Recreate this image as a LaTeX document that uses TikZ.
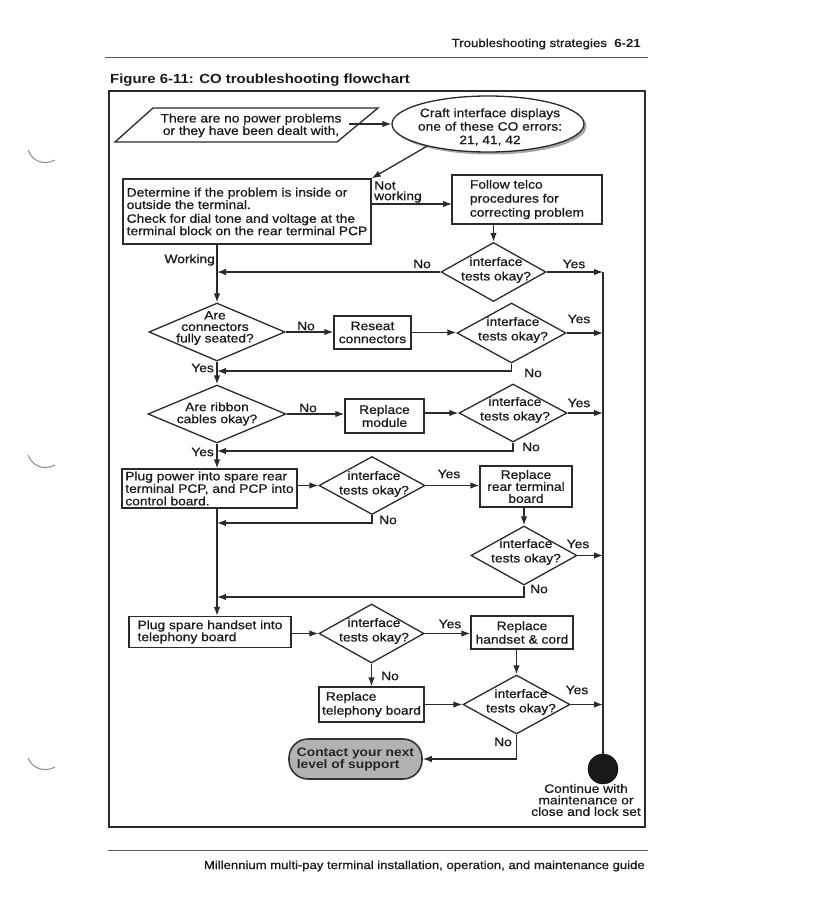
\documentclass[tikz,border=0pt]{standalone}
\usepackage{fontspec}
\setmainfont{Liberation Sans}[FakeStretch=1.13, UprightFeatures={FakeBold=0.7}]
\usetikzlibrary{shapes.geometric,arrows.meta,shadows}
\definecolor{linec}{HTML}{2A2A2A}
\definecolor{textc}{HTML}{1A1A1A}
\newcommand\fsz[1]{\fontsize{12.2}{#1}\selectfont}
\tikzset{
  ln/.style={draw=linec, line width=1.3pt},
  arr/.style={ln, -{Latex[length=9pt,width=6.5pt]}},
  box/.style={ln, rectangle, inner sep=0pt, text=textc},
  dia/.style={ln, diamond, inner sep=0pt},
  txt/.style={inner sep=0pt, text=textc, font=\fsz{12}},
  dtxt/.style={txt, align=center, font=\fsz{14.5}},
  rulestyle/.style={draw=black!65, line width=1pt},
  holemark/.style={draw=black!45, line width=1pt},
}
\begin{document}
\begin{tikzpicture}[x=1pt,y=-1pt]
\useasboundingbox (0,0) rectangle (840,916);
\fill[white] (0,0) rectangle (840,916);

% binding marks
\draw[holemark] (28,150) .. controls (32,161) and (44,166) .. (55,160);
\draw[holemark] (28,455) .. controls (32,466) and (44,471) .. (55,465);
\draw[holemark] (28,758) .. controls (32,768) and (44,773) .. (55,767);

% header / footer
\node[txt, anchor=east, font=\fontsize{11.7}{13}\selectfont] (hdr) at (641,44) {Troubleshooting strategies\ \ \textbf{6-21}};
\draw[rulestyle] (105,57) -- (648,57);
\node[txt, anchor=west, font=\fontsize{13.2}{15}\selectfont\bfseries] (ttl) at (110,80) {Figure 6-11: CO troubleshooting flowchart};
\draw[rulestyle] (108,850) -- (648,850);
\node[txt, anchor=east, font=\fontsize{11.6}{13}\selectfont] (ftr) at (645,866) {Millennium multi-pay terminal installation, operation, and maintenance guide};

% frame
\draw[ln, line width=1.2pt] (109,91) rectangle (645,827);

% start parallelogram and ellipse
\draw[ln] (153,108) -- (378,108) -- (337,142) -- (115,142) -- cycle;
\node[txt, align=center, font=\fsz{11}] (par) at (251,125.5) {There are no power problems\\or they have been dealt with,};
\coordinate (parR) at (349,124);
\node[ln, ellipse, fill=white, minimum width=192pt, minimum height=56pt, inner sep=0pt,
      drop shadow={shadow xshift=2.5pt,shadow yshift=-2.5pt,fill=black!35,opacity=1}] (ell) at (488,124) {};
\node[txt, align=center, font=\fsz{13.5}] (ellt) at (490,127) {Craft interface displays\\one of these CO errors:\\21, 41, 42};

% boxes
\node[box, minimum width=248pt, minimum height=65pt, align=left, font=\fsz{10.8}] (det) at (247,211.5)
  {Determine if the problem is inside or\\outside the terminal.\\[3pt]Check for dial tone and voltage at the\\terminal block on the rear terminal PCP};
\node[box, minimum width=150pt, minimum height=49pt, align=left, font=\fsz{14}] (fol) at (527,199.5)
  {Follow telco\\procedures for\\correcting problem};
\node[box, minimum width=77pt, minimum height=33pt, align=center, font=\fsz{13}] (rsc) at (372.5,332.5) {Reseat\\connectors};
\node[box, minimum width=79pt, minimum height=34pt, align=center, font=\fsz{13}] (rmod) at (384.5,416) {Replace\\module};
\node[box, minimum width=175pt, minimum height=39pt, align=left, font=\fsz{12.5}] (ppow) at (209.5,488.5)
  {Plug power into spare rear\\terminal PCP, and PCP into\\control board.};
\node[box, minimum width=92pt, minimum height=41pt, align=center, font=\fsz{12}] (rrear) at (526,486.5) {Replace\\rear terminal\\board};
\node[box, minimum width=162pt, minimum height=31pt, align=left, font=\fsz{12}] (hand) at (210,632) {Plug spare handset into\\telephony board};
\node[box, minimum width=102pt, minimum height=33pt, align=center, font=\fsz{13.5}] (rhand) at (522,632.5) {Replace\\handset \& cord};
\node[box, minimum width=105pt, minimum height=35pt, align=left, font=\fsz{14}] (rtel) at (371.5,704.5) {\ Replace\\telephony board};
\node[box, draw=black!80, line width=1.6pt, fill=black!30, rounded corners=19pt, minimum width=133pt, minimum height=40pt,
      align=left, font=\fsz{12}\bfseries, text=black!85] (term) at (355.5,759) {Contact your next\\level of support};

% diamonds
\node[dia, minimum width=105pt, minimum height=59pt] (d1) at (493.5,272) {};
\node[dtxt] (d1t) at (496,270) {interface\\tests okay?};
\node[dia, minimum width=136pt, minimum height=58pt] (dA) at (217,332) {};
\node[dtxt, font=\fsz{11.5}] (dAt) at (215,328) {Are\\connectors\\fully seated?};
\node[dia, minimum width=109pt, minimum height=60pt] (d2) at (511.5,333) {};
\node[dtxt] (d2t) at (513,330) {interface\\tests okay?};
\node[dia, minimum width=138pt, minimum height=58pt] (dB) at (217,414) {};
\node[dtxt, font=\fsz{12}] (dBt) at (217,414) {Are ribbon\\cables okay?};
\node[dia, minimum width=108pt, minimum height=58pt] (d3) at (513,413) {};
\node[dtxt] (d3t) at (515,410) {interface\\tests okay?};
\node[dia, minimum width=106pt, minimum height=58pt] (d4) at (372,485.5) {};
\node[dtxt] (d4t) at (374,484) {interface\\tests okay?};
\node[dia, minimum width=106pt, minimum height=59pt] (d5) at (524,555.5) {};
\node[dtxt] (d5t) at (526,552) {interface\\tests okay?};
\node[dia, minimum width=105pt, minimum height=59pt] (d6) at (371.5,633.5) {};
\node[dtxt] (d6t) at (374,631) {interface\\tests okay?};
\node[dia, minimum width=107pt, minimum height=59pt] (d7) at (516.5,704.5) {};
\node[dtxt] (d7t) at (521,702) {interface\\tests okay?};

% end circle
\node[circle, fill=black!90, draw=black, minimum size=30pt, inner sep=0pt] (circ) at (603,769) {};
\node[txt, align=center, font=\fsz{11.5}] (cont) at (586,800) {Continue with\\maintenance or\\close and lock set};

% return points on main line
\coordinate (r2) at (217,371);
\coordinate (r3) at (217,451);
\coordinate (r4) at (217,523);
\coordinate (r5) at (217,597);
\coordinate (nw) at (452,204);

% connectors
\draw[arr] (parR) -- (ell.west);
\draw[arr] (ell.200) -- (det.north east);
\draw[arr] (nw -| det.east) -- (nw);
\draw[arr] (d1.north |- fol.south) -- (d1.north);
\draw[arr] (dA.north |- det.south) -- (dA.north);
\draw[arr] (d1.west) -- (d1.west -| dA.north);
\draw[ln] (d1.east -| circ.north) -- (circ.north);
\draw[arr] (d1.east) -- (d1.east -| circ.north);

\draw[arr] (dA.east) -- (dA.east -| rsc.west);
\draw[arr] (rsc.east) -- (rsc.east -| d2.west);
\draw[arr] (d2.east) -- (d2.east -| circ.north);
\draw[arr] (d2.south) |- (r2);
\draw[arr] (dA.south) -- (dB.north);

\draw[arr] (dB.east) -- (dB.east -| rmod.west);
\draw[arr] (rmod.east |- d3.west) -- (d3.west);
\draw[arr] (d3.east) -- (d3.east -| circ.north);
\draw[arr] (d3.south) |- (r3);
\draw[arr] (dB.south) -- (dB.south |- ppow.north);

\draw[arr] (d4.west -| ppow.east) -- (d4.west);
\draw[arr] (d4.east) -- (d4.east -| rrear.west);
\draw[arr] (d4.south) |- (r4);
\draw[arr] (d5.north |- rrear.south) -- (d5.north);
\draw[arr] (d5.east) -- (d5.east -| circ.north);
\draw[arr] (d5.south) |- (r5);
\draw[arr] (dA.north |- ppow.south) -- (dA.north |- hand.north);

\draw[arr] (d6.west -| hand.east) -- (d6.west);
\draw[arr] (d6.east) -- (d6.east -| rhand.west);
\draw[arr] (d7.north |- rhand.south) -- (d7.north);
\draw[arr] (d6.south) -- (d6.south |- rtel.north);
\draw[arr] (rtel.east |- d7.west) -- (d7.west);
\draw[arr] (d7.east) -- (d7.east -| circ.north);
\draw[arr] (d7.south) |- (term.east);

% labels
\node[txt, align=left, anchor=west, font=\fsz{10.5}] (lnw) at (374,192) {Not\\working};
\node[txt, anchor=east] (lwk) at (215,260) {Working};
\node[txt] (l1n) at (422,264) {No};
\node[txt] (l1y) at (574,264) {Yes};
\node[txt] (lAn) at (306,326) {No};
\node[txt] (l2y) at (579,319) {Yes};
\node[txt] (l2n) at (533,373) {No};
\node[txt, anchor=east] (lAy) at (214,368) {Yes};
\node[txt] (lBn) at (308,408) {No};
\node[txt] (l3y) at (579,403) {Yes};
\node[txt] (l3n) at (531,447) {No};
\node[txt, anchor=east] (lBy) at (214,452) {Yes};
\node[txt] (l4y) at (449,474) {Yes};
\node[txt] (l4n) at (388,520) {No};
\node[txt] (l5y) at (578,544) {Yes};
\node[txt] (l5n) at (539,589) {No};
\node[txt] (l6y) at (450,624) {Yes};
\node[txt] (l6n) at (390,676) {No};
\node[txt] (l7y) at (577,690) {Yes};
\node[txt] (l7n) at (503,742) {No};
\end{tikzpicture}
\end{document}
